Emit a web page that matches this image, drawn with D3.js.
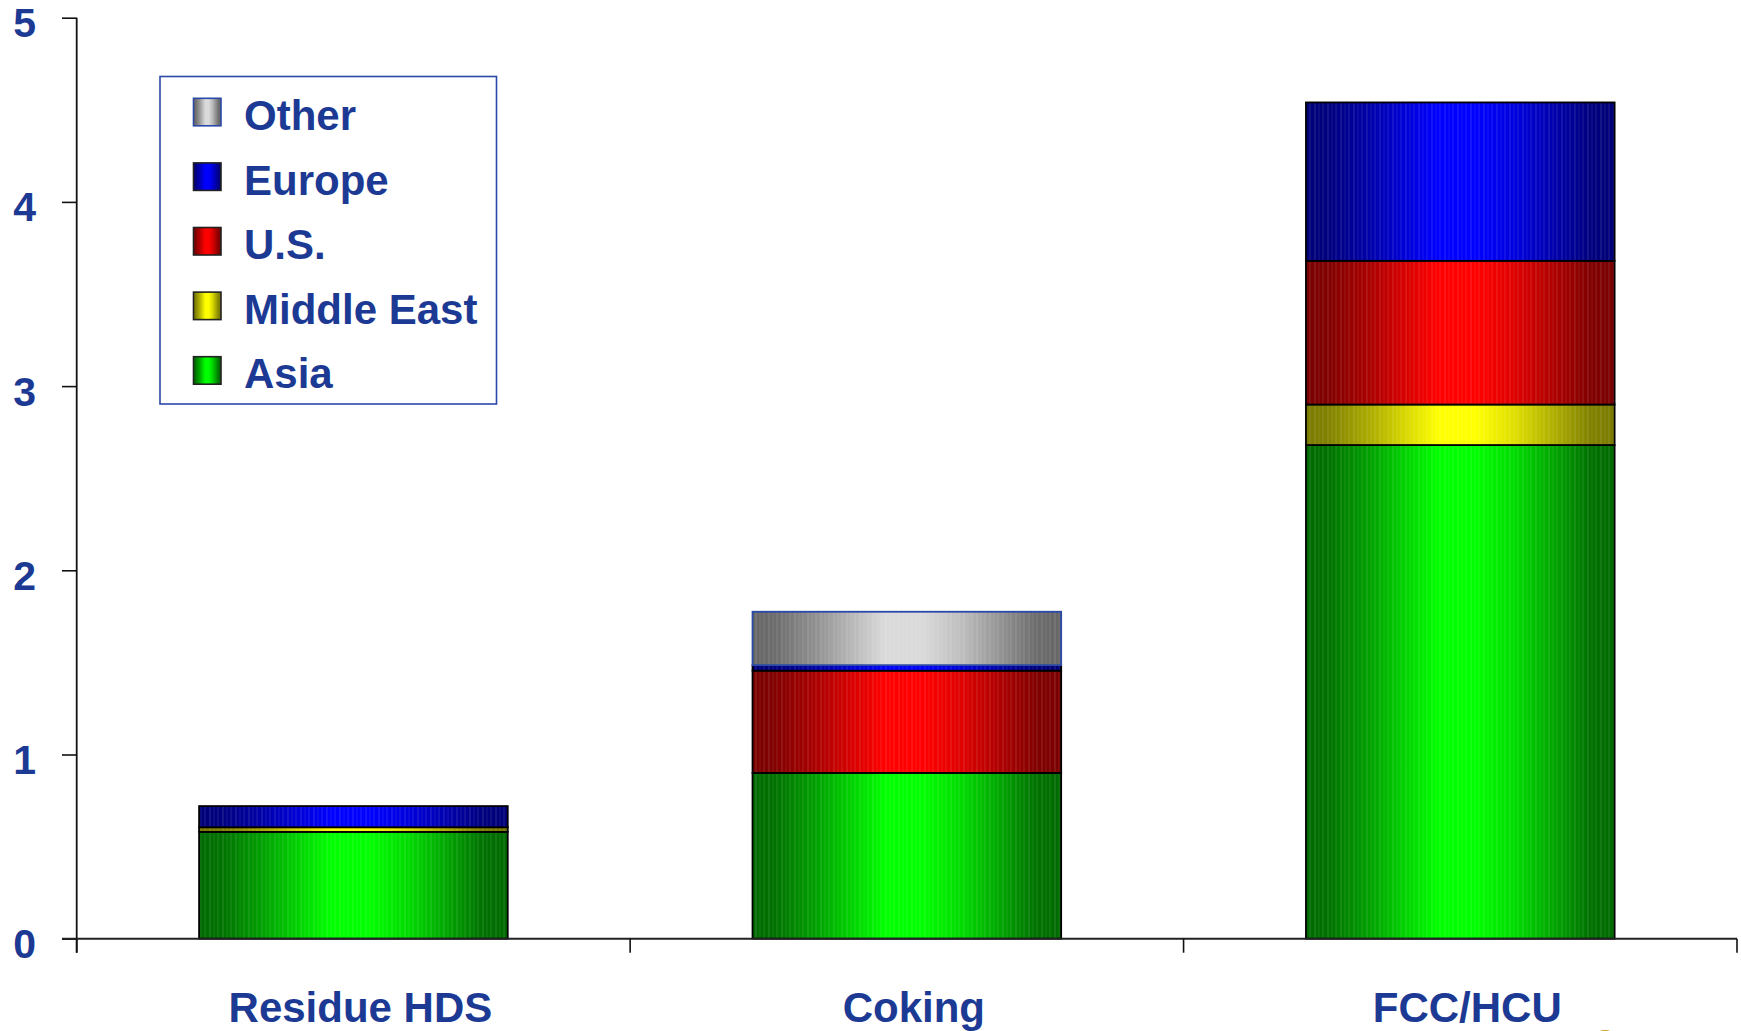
<!DOCTYPE html>
<html>
<head>
<meta charset="utf-8">
<script src="https://cdn.jsdelivr.net/npm/d3@7"></script>
<style>
  html, body { margin: 0; padding: 0; background: #ffffff; }
  svg { display: block; }
  text { font-family: "Liberation Sans", Arial, sans-serif; font-weight: bold; }
</style>
</head>
<body>
<svg id="chart" width="1741" height="1031"></svg>
<script>
// Capacity by process type, stacked by region
const categories = ["Residue HDS", "Coking", "FCC/HCU"];
const regions = ["Asia", "Middle East", "U.S.", "Europe", "Other"];
const asia       = [0.58, 0.90, 2.68];
const middleEast = [0.025, 0.00, 0.22];
const us         = [0.00, 0.555, 0.78];
const europe     = [0.115, 0.03, 0.86];
const other      = [0.00, 0.29, 0.00];
const yTicks = [0, 1, 2, 3, 4, 5];
const legendOrder = ["Other", "Europe", "U.S.", "Middle East", "Asia"];

// Edge / centre colours for the cylinder-style shading of each region
const shades = {
  "Asia":        { edge: "#006a00", mid: "#00ff00", stroke: "#000000" },
  "Middle East": { edge: "#7a7a00", mid: "#ffff00", stroke: "#000000" },
  "U.S.":        { edge: "#7a0000", mid: "#ff0000", stroke: "#000000" },
  "Europe":      { edge: "#000078", mid: "#0000ff", stroke: "#000000" },
  "Other":       { edge: "#666666", mid: "#dadada", stroke: "#2a4aa8" }
};
const textColor = "#1c3a94";

const rows = categories.map((c, i) => ({
  category: c,
  "Asia": asia[i],
  "Middle East": middleEast[i],
  "U.S.": us[i],
  "Europe": europe[i],
  "Other": other[i]
}));

const svg = d3.select("#chart");
const plot = { left: 76.7, right: 1737, top: 17.7, bottom: 938.7 };

const x = d3.scaleBand()
  .domain(categories)
  .range([plot.left, plot.right])
  .paddingInner(0.4423)
  .paddingOuter(0.4423 / 2);

const y = d3.scaleLinear().domain([0, 5]).range([plot.bottom, plot.top]);

// Gradients + stripe texture
const defs = svg.append("defs");
const slug = s => s.replace(/[^A-Za-z]/g, "");
regions.forEach(r => {
  const g = defs.append("linearGradient")
    .attr("id", "grad-" + slug(r))
    .attr("x1", "0%").attr("x2", "100%").attr("y1", "0%").attr("y2", "0%");
  const s = shades[r];
  const mix = d3.interpolateRgb(s.edge, s.mid);
  [[0, 0], [0.07, 0.05], [0.2, 0.35], [0.32, 0.7], [0.43, 1], [0.55, 1],
   [0.68, 0.75], [0.8, 0.4], [0.92, 0.05], [1, 0]].forEach(([o, t]) => {
    g.append("stop").attr("offset", (o * 100) + "%").attr("stop-color", mix(t));
  });
});

const stripes = defs.append("pattern")
  .attr("id", "stripes")
  .attr("patternUnits", "userSpaceOnUse")
  .attr("width", 13).attr("height", 10);
[[1.5, 0.16], [5.5, 0.09], [9.5, 0.13]].forEach(([px, op]) => {
  stripes.append("rect")
    .attr("x", px).attr("y", 0).attr("width", 1).attr("height", 10)
    .attr("fill", "#ffffff").attr("opacity", op);
});

// Stacked bars
const stack = d3.stack().keys(regions);
const series = stack(rows);

const barG = svg.append("g");
series.forEach(layer => {
  const r = layer.key;
  const segs = layer.map(d => ({ d, cat: d.data.category }))
    .filter(o => o.d[1] - o.d[0] > 0);
  const g = barG.append("g");
  g.selectAll("rect.fill")
    .data(segs)
    .join("rect")
    .attr("class", "fill")
    .attr("x", o => x(o.cat))
    .attr("width", x.bandwidth())
    .attr("y", o => y(o.d[1]))
    .attr("height", o => y(o.d[0]) - y(o.d[1]))
    .attr("fill", "url(#grad-" + slug(r) + ")");
  g.selectAll("rect.tex")
    .data(segs)
    .join("rect")
    .attr("class", "tex")
    .attr("x", o => x(o.cat))
    .attr("width", x.bandwidth())
    .attr("y", o => y(o.d[1]))
    .attr("height", o => y(o.d[0]) - y(o.d[1]))
    .attr("fill", "url(#stripes)")
    .attr("stroke", shades[r].stroke)
    .attr("stroke-width", 1.8);
});

// Y axis
const yAxis = d3.axisLeft(y)
  .tickValues(yTicks)
  .tickFormat(d3.format("d"))
  .tickSize(14.7)
  .tickPadding(26)
  .tickSizeOuter(0);
const yg = svg.append("g")
  .attr("transform", `translate(${plot.left},0)`)
  .call(yAxis);
yg.select(".domain").remove();
yg.append("line")
  .attr("x1", 0).attr("x2", 0)
  .attr("y1", plot.top).attr("y2", plot.bottom + 14)
  .attr("stroke", "#111").attr("stroke-width", 1.8);
yg.selectAll(".tick line").attr("stroke", "#111").attr("stroke-width", 1.6);
yg.selectAll(".tick text")
  .attr("fill", textColor)
  .attr("font-size", 41)
  .attr("dy", null)
  .attr("y", 19);

// X axis: baseline with ticks at category boundaries
const xg = svg.append("g");
xg.append("line")
  .attr("x1", plot.left - 14.7).attr("x2", plot.right)
  .attr("y1", plot.bottom).attr("y2", plot.bottom)
  .attr("stroke", "#222").attr("stroke-width", 2);
const bounds = categories.map(c => x(c) - x.step() * x.paddingInner() / 2)
  .concat([plot.right]);
xg.selectAll("line.tick")
  .data(bounds)
  .join("line")
  .attr("class", "tick")
  .attr("x1", d => d).attr("x2", d => d)
  .attr("y1", plot.bottom).attr("y2", plot.bottom + 14)
  .attr("stroke", "#111").attr("stroke-width", 1.6);
xg.selectAll("text")
  .data(categories)
  .join("text")
  .attr("x", d => x(d) + x.bandwidth() / 2 + 7)
  .attr("y", 1022)
  .attr("text-anchor", "middle")
  .attr("font-size", 42)
  .attr("fill", textColor)
  .text(d => d);

// Legend
const lg = svg.append("g");
lg.append("rect")
  .attr("x", 160).attr("y", 76.5)
  .attr("width", 336.5).attr("height", 327.5)
  .attr("fill", "#ffffff")
  .attr("stroke", "#2a48a8").attr("stroke-width", 1.6);
const items = lg.selectAll("g.item")
  .data(legendOrder)
  .join("g")
  .attr("class", "item")
  .attr("transform", (d, i) => `translate(0,${i * 64.6})`);
items.append("rect")
  .attr("x", 193.5).attr("y", 98.3)
  .attr("width", 27.5).attr("height", 27.5)
  .attr("fill", d => "url(#grad-" + slug(d) + ")")
  .attr("stroke", d => d === "Other" ? shades[d].stroke : "#222")
  .attr("stroke-width", 1.6);
items.append("text")
  .attr("x", 244).attr("y", 130)
  .attr("font-size", 42)
  .attr("fill", textColor)
  .text(d => d);

// Corner emblem, mostly below the page edge
svg.append("ellipse")
  .attr("cx", 1605).attr("cy", 1042)
  .attr("rx", 13).attr("ry", 12)
  .attr("fill", "#c89a2a");
</script>
</body>
</html>
